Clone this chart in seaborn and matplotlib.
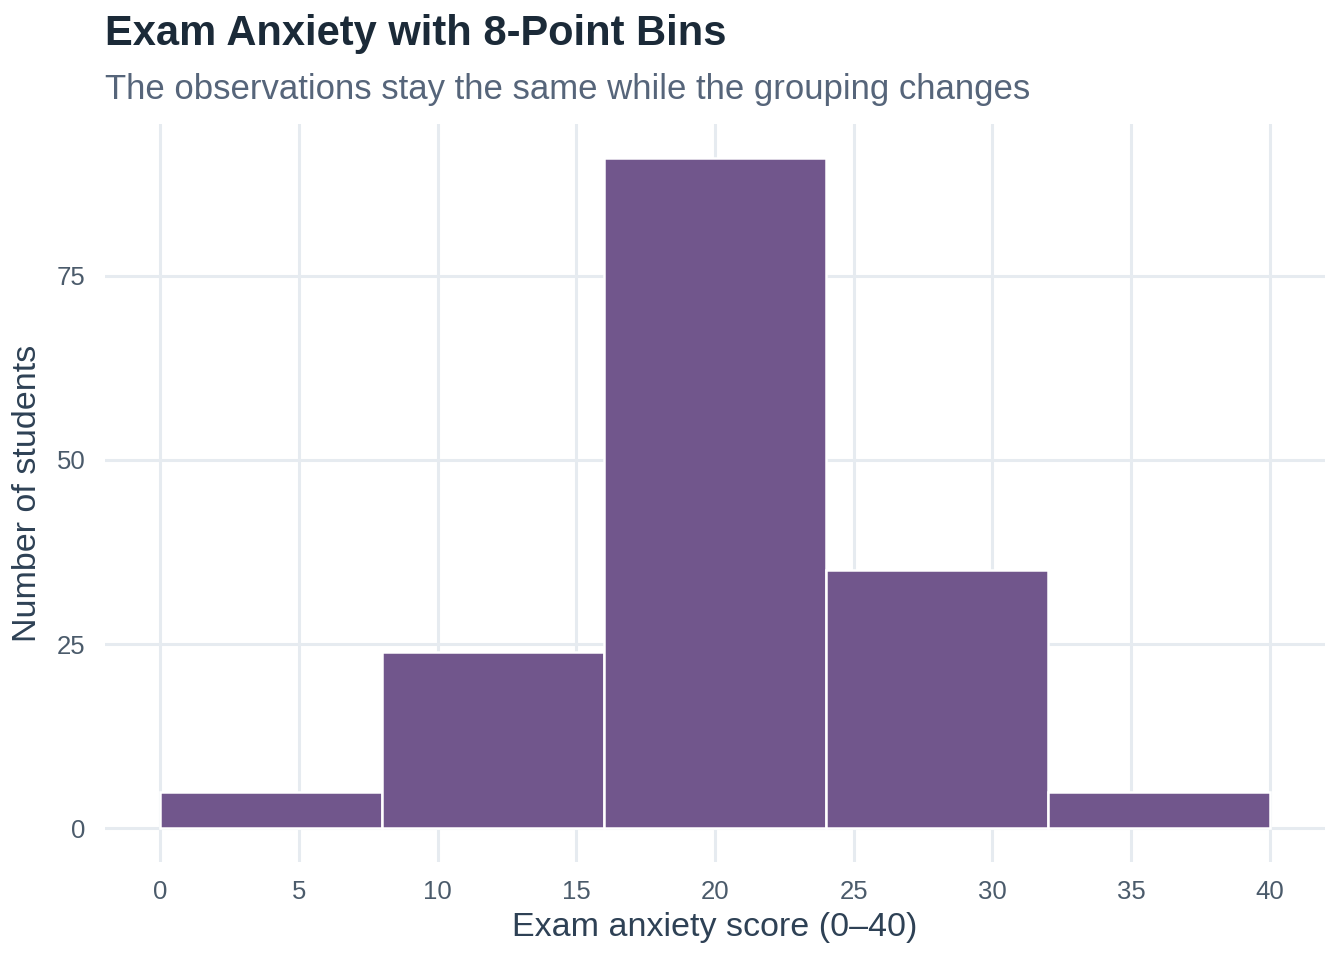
import numpy as np
import pandas as pd
import matplotlib
matplotlib.use("Agg")
import matplotlib.pyplot as plt
import seaborn as sns

# Data: 8-point bins of exam anxiety score, counts of students
bin_edges = [0, 8, 16, 24, 32, 40]
bin_counts = [5, 24, 91, 35, 5]
x_ticks = [0, 5, 10, 15, 20, 25, 30, 35, 40]
y_ticks = [0, 25, 50, 75]

df = pd.DataFrame({
    "score": [(a + b) / 2 for a, b in zip(bin_edges[:-1], bin_edges[1:])],
    "n": bin_counts,
})

sns.set_theme(style="white")
plt.rcParams["font.family"] = ["Liberation Sans", "DejaVu Sans"]

fig = plt.figure(figsize=(13.44, 9.6), dpi=100)
ax = fig.add_axes([105 / 1344, 1 - 862 / 960, (1325 - 105) / 1344, (862 - 124) / 960])

sns.histplot(data=df, x="score", weights="n", bins=bin_edges, ax=ax,
             color="#71568C", alpha=1, edgecolor="white", linewidth=1.8, zorder=3)

ax.set_xlim(-2, 42)
ax.set_ylim(-0.05 * 91, 91 * 1.05)
ax.set_xticks(x_ticks)
ax.set_yticks(y_ticks)
ax.grid(True, color="#E6EBF0", linewidth=2.2, zorder=0)
ax.set_axisbelow(True)
for s in ax.spines.values():
    s.set_visible(False)
ax.tick_params(axis="x", length=0, labelsize=18.5, labelcolor="#4B5B6B", pad=13)
ax.tick_params(axis="y", length=0, labelsize=18.5, labelcolor="#4B5B6B", pad=14)

ax.set_xlabel("Exam anxiety score (0\u201340)", fontsize=24.5, color="#2E4155", labelpad=6)
ax.set_ylabel("Number of students", fontsize=24.5, color="#2E4155", labelpad=10)

fig.text(105 / 1344, 1 - 34 / 960, "Exam Anxiety with 8-Point Bins", fontsize=30,
         fontweight="bold", color="#1B2A38", va="center", ha="left")
fig.text(105 / 1344, 1 - 89 / 960, "The observations stay the same while the grouping changes",
         fontsize=25, color="#56657A", va="center", ha="left")

fig.savefig("out.png", dpi=100)
